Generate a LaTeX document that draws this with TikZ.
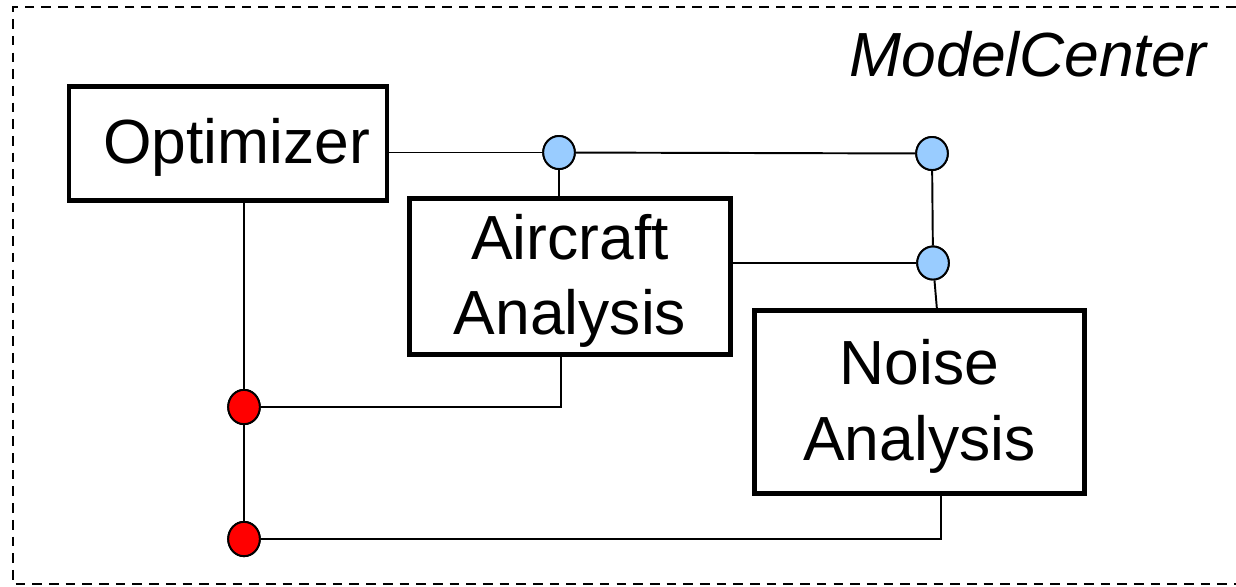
\documentclass[tikz,border=0pt]{standalone}
\usepackage{fontspec}
\setmainfont{Liberation Sans}
\usetikzlibrary{shapes.geometric}
\definecolor{dotblue}{HTML}{99CCFF}
\newcommand{\lowtext}[1]{\raisebox{-3pt}[\height][\depth]{\begin{tabular}{@{}c@{}}#1\end{tabular}}}
\begin{document}
\begin{tikzpicture}[x=0.02cm,y=-0.02cm,
  fnt/.style={font=\fontsize{35.5pt}{43pt}\selectfont},
  block/.style={draw=black, line width=2.8pt, fill=white, fnt, align=center, inner sep=0pt},
  wire/.style={draw=black, line width=1.1pt},
  bluedot/.style={ellipse, draw=black, line width=1.1pt, fill=dotblue, minimum width=18pt, minimum height=18.8pt, inner sep=0pt},
  reddot/.style={ellipse, draw=black, line width=1.1pt, fill=red, minimum width=18pt, minimum height=19.5pt, inner sep=0pt},
  frame/.style={draw=black, line width=1.15pt, dash pattern=on 5.5pt off 4pt}
]
\useasboundingbox (0,0) rectangle (1236,586);
\draw[frame] (1236,7) -- (13,7) -- (13,584) -- (1236,584);
\node[fnt, font=\fontsize{35.5pt}{43pt}\selectfont\itshape, anchor=base east] (mc) at (1213,76) {ModelCenter};

% blocks
\node[block, minimum width=181pt, minimum height=65pt] (opt) at (228,143.5) {\lowtext{\hspace*{10pt}Optimizer}};
\node[block, minimum width=183pt, minimum height=89pt] (ac) at (570,276.5) {\lowtext{Aircraft\\Analysis}};
\node[block, minimum width=188pt, minimum height=104pt] (na) at (919.5,402) {\lowtext{Noise\\Analysis}};

% dots
\node[bluedot] (b1) at (559,152.5) {};
\node[bluedot] (b2) at (932,153.5) {};
\node[bluedot] (b3) at (933,263) {};
\node[reddot] (r1) at (244,407) {};
\node[reddot] (r2) at (244,539) {};

\coordinate (acout) at (561,355);
\coordinate (naout) at (941,494);
\coordinate (nain) at (937,310);

% wires
\draw[wire] (opt.east |- b1) -- (b1);
\draw[wire] (b1) -- (b2);
\draw[wire] (b1) -- (b1 |- ac.north);
\draw[wire] (b2) -- (b3);
\draw[wire] (ac.east |- b3) -- (b3);
\draw[wire] (b3) -- (nain);
\draw[wire] (r1 |- opt.south) -- (r1);
\draw[wire] (r1) -- (r2);
\draw[wire] (r1) -| (acout);
\draw[wire] (r2) -| (naout);

% redraw dots on top
\node[bluedot] at (b1) {};
\node[bluedot] at (b2) {};
\node[bluedot] at (b3) {};
\node[reddot] at (r1) {};
\node[reddot] at (r2) {};
\end{tikzpicture}
\end{document}
